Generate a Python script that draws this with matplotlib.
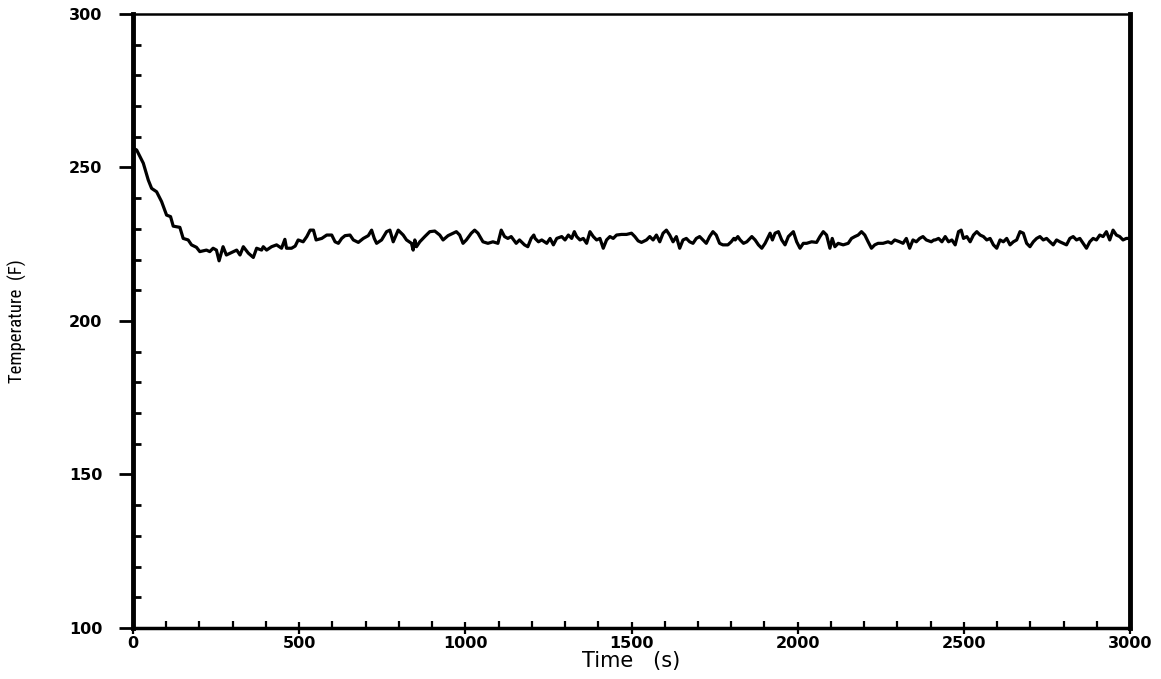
import numpy as np
import matplotlib
matplotlib.use("Agg")
import matplotlib.pyplot as plt
from matplotlib import font_manager
from matplotlib.ticker import MultipleLocator

# temperature trace, split in pieces
t_start = [0, 11, 31, 46, 56, 71, 86, 101, 113, 121, 141, 151, 166, 176, 191, 201,
           221, 231, 241, 251, 259, 271, 281, 302, 312, 322, 332, 347, 362, 372,
           387, 392, 402, 417, 432, 447, 457, 462, 477, 488, 497, 512, 523, 533,
           543, 551, 568, 583, 598]
T_start = [256.3, 255.7, 251.4, 245.9, 243.2, 242.1, 238.9, 234.5, 234.0, 230.9,
           230.5, 226.9, 226.4, 224.8, 224.0, 222.6, 223.1, 222.6, 223.7, 223.1,
           219.6, 224.2, 221.5, 222.6, 223.1, 221.5, 224.2, 222.1, 220.7, 223.7,
           223.1, 224.2, 223.1, 224.2, 224.8, 223.7, 226.6, 223.7, 223.7, 224.4,
           226.4, 225.8, 227.5, 229.6, 229.6, 226.4, 226.9, 228.0, 228.0]

t_seg2 = [608, 618, 628, 638, 653, 663, 678, 693, 708, 718, 726, 733, 748, 763,
          773, 783, 798, 813, 823, 838, 843, 848, 853, 863, 878, 893, 908, 923,
          933, 948, 963, 973, 983, 993, 1003, 1018, 1028, 1038, 1053, 1068, 1083,
          1098, 1108, 1118, 1128, 1138, 1153, 1163, 1178, 1188, 1198, 1206]
T_seg2 = [225.8, 225.3, 226.9, 227.8, 228.0, 226.4, 225.6, 226.9, 227.8, 229.6,
          226.9, 225.3, 226.4, 229.1, 229.6, 225.8, 229.6, 228.0, 226.4, 225.3,
          223.1, 226.4, 224.2, 225.8, 227.5, 229.1, 229.3, 228.0, 226.4, 227.8,
          228.6, 229.1, 228.0, 225.3, 226.4, 228.6, 229.6, 228.6, 225.8, 225.3,
          225.8, 225.3, 229.6, 227.5, 226.9, 227.5, 225.3, 226.4, 224.8, 224.2,
          226.9, 228.0]

t_seg3 = [1210, 1220, 1230, 1245, 1255, 1265, 1275, 1290, 1300, 1310, 1320, 1328,
          1335, 1345, 1355, 1365, 1375, 1385, 1395, 1405, 1415, 1425, 1435, 1445,
          1455, 1470, 1485, 1500, 1510, 1520, 1530, 1545, 1555, 1565, 1575, 1585,
          1595, 1605, 1615, 1625, 1635, 1645, 1655, 1665, 1675, 1685, 1695, 1705,
          1715, 1725, 1735, 1745, 1755, 1765, 1775, 1790, 1800, 1808]
T_seg3 = [226.9, 225.8, 226.4, 225.3, 226.9, 224.8, 226.9, 227.5, 226.4, 228.0,
          226.9, 229.1, 227.5, 226.4, 226.9, 225.3, 229.1, 227.5, 226.4, 226.9,
          223.7, 226.4, 227.5, 226.9, 228.0, 228.2, 228.2, 228.6, 227.5, 226.1,
          225.6, 226.4, 227.5, 226.4, 228.0, 225.8, 228.6, 229.6, 228.0, 225.8,
          227.5, 223.7, 226.4, 226.9, 225.8, 225.3, 226.9, 227.5, 226.4, 225.3,
          227.5, 229.1, 228.0, 225.3, 224.8, 224.8, 225.8, 226.9]

t_seg4 = [1812, 1820, 1827, 1837, 1847, 1862, 1872, 1882, 1892, 1902, 1912, 1917,
          1924, 1932, 1942, 1952, 1962, 1972, 1982, 1987, 1997, 2007, 2017, 2027,
          2042, 2057, 2067, 2077, 2087, 2097, 2104, 2112, 2122, 2137, 2152, 2162,
          2172, 2182, 2192, 2202, 2212, 2222, 2232, 2242, 2257, 2272, 2282, 2292,
          2307, 2317, 2327, 2337, 2347, 2357, 2367, 2377, 2387, 2402, 2410]
T_seg4 = [226.4, 227.5, 226.4, 225.3, 225.8, 227.5, 226.4, 224.8, 223.7, 225.3,
          227.5, 228.6, 226.4, 228.6, 229.1, 226.4, 224.8, 227.5, 228.6, 229.1,
          225.8, 223.7, 225.3, 225.3, 225.8, 225.6, 227.5, 229.1, 228.0, 223.7,
          226.9, 224.2, 225.3, 224.8, 225.3, 226.9, 227.5, 228.0, 229.1, 228.0,
          225.8, 223.7, 224.8, 225.3, 225.3, 225.8, 225.3, 226.4, 225.8, 225.3,
          226.9, 223.7, 226.4, 225.8, 226.9, 227.5, 226.4, 225.8, 226.4]

t_seg5 = [2414, 2424, 2434, 2444, 2454, 2464, 2474, 2484, 2492, 2499, 2509, 2519,
          2529, 2539, 2549, 2559, 2569, 2579, 2589, 2599, 2609, 2619, 2629, 2639,
          2649, 2659, 2669, 2679, 2689, 2699, 2709, 2719, 2729, 2739, 2749, 2759,
          2769, 2779, 2789, 2799, 2809, 2819, 2829, 2839, 2849, 2859, 2869, 2879,
          2889, 2899, 2909, 2919, 2929, 2939, 2949, 2959, 2969, 2979, 2989, 3000]
T_seg5 = [226.4, 226.9, 225.8, 227.5, 225.8, 226.4, 224.8, 229.1, 229.6, 226.9,
          227.5, 225.8, 228.0, 229.1, 228.0, 227.5, 226.4, 226.9, 224.8, 223.7,
          226.4, 225.8, 226.9, 224.8, 225.8, 226.4, 229.1, 228.6, 225.3, 224.2,
          225.8, 226.9, 227.5, 226.4, 226.9, 225.8, 224.8, 226.4, 225.8, 225.3,
          224.8, 226.9, 227.5, 226.4, 226.9, 225.3, 223.7, 225.8, 226.9, 226.4,
          228.0, 227.5, 229.1, 226.4, 229.6, 228.0, 227.5, 226.4, 226.9, 226.9]

time = np.array(t_start + t_seg2 + t_seg3 + t_seg4 + t_seg5)
temp = np.array(T_start + T_seg2 + T_seg3 + T_seg4 + T_seg5)

# narrow font for the y label if one is around
fonts = font_manager.fontManager.ttflist
names = {f.name for f in fonts}
ylab_kw = dict(family="DejaVu Sans", fontsize=11.5)
for cand in ["Liberation Sans Narrow", "DejaVu Sans Condensed", "Roboto Condensed",
             "Open Sans Condensed", "Noto Sans Condensed"]:
    if cand in names:
        ylab_kw = dict(family=cand, fontsize=13.5)
        break
else:
    if any(f.name == "DejaVu Sans" and "condensed" in str(f.stretch) for f in fonts):
        ylab_kw = dict(family="DejaVu Sans", fontstretch="condensed", fontsize=13)

fig = plt.figure(figsize=(11.61, 6.79), dpi=100)
ax = fig.add_axes([133/1161, 1-628/679, 997/1161, 614/679])

ax.plot(time, temp, color="black", lw=2.3, solid_joinstyle="round")

ax.set_xlim(0, 3000)
ax.set_ylim(100, 300)
ax.xaxis.set_major_locator(MultipleLocator(500))
ax.xaxis.set_minor_locator(MultipleLocator(100))
ax.yaxis.set_major_locator(MultipleLocator(50))
ax.yaxis.set_minor_locator(MultipleLocator(10))

ax.tick_params(axis="y", which="major", direction="out", length=10, width=2,
               pad=12, labelsize=11.5)
ax.tick_params(axis="y", which="minor", direction="in", length=6, width=2)
ax.tick_params(axis="x", which="major", direction="inout", length=9, width=1.6,
               pad=1, labelsize=11.5)
ax.tick_params(axis="x", which="minor", direction="in", length=5, width=1.6)
for lab in ax.get_xticklabels() + ax.get_yticklabels():
    lab.set_fontweight("bold")

ax.spines["left"].set_linewidth(3.5)
ax.spines["right"].set_linewidth(3.5)
ax.spines["bottom"].set_linewidth(2.5)
ax.spines["top"].set_linewidth(1.8)

ax.set_xlabel("Time   (s)", fontsize=15, labelpad=0)
ax.set_ylabel("Temperature  (F)", **ylab_kw)
ax.yaxis.set_label_coords(-0.106, 0.5)

fig.savefig("out.png", dpi=100)
